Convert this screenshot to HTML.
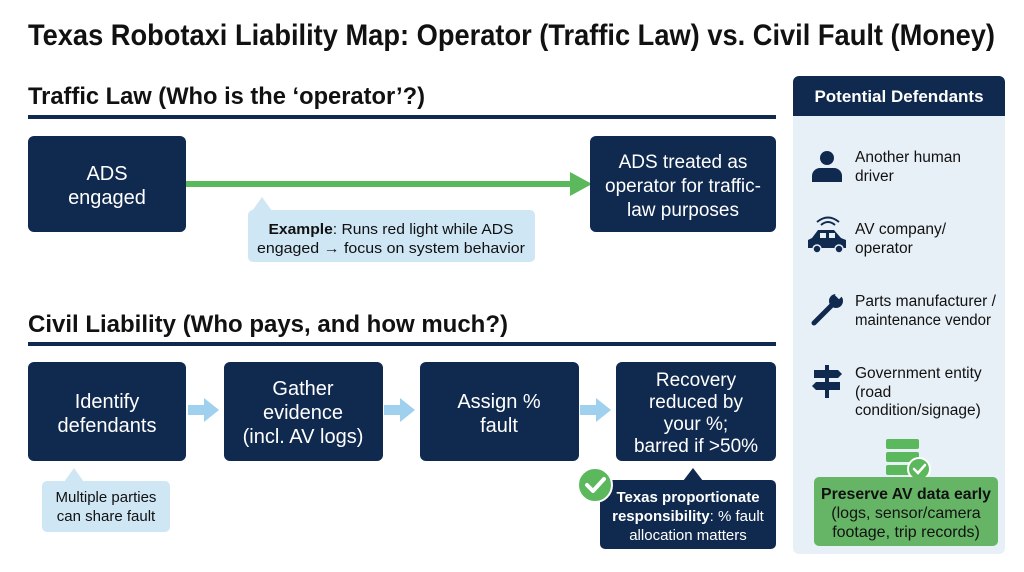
<!DOCTYPE html>
<html><head><meta charset="utf-8"><style>
html,body{margin:0;padding:0;background:#fff;}
svg{display:block;}
text{font-family:"Liberation Sans",sans-serif;}
</style></head><body>
<svg width="1024" height="572" viewBox="0 0 1024 572" xmlns="http://www.w3.org/2000/svg">
<rect width="1024" height="572" fill="#fff"/>
<!-- Title -->
<text x="28" y="45" font-size="30" font-weight="bold" fill="#111" textLength="967" lengthAdjust="spacingAndGlyphs">Texas Robotaxi Liability Map: Operator (Traffic Law) vs. Civil Fault (Money)</text>

<!-- Traffic Law -->
<text x="28" y="104" font-size="24" font-weight="bold" fill="#111" textLength="397" lengthAdjust="spacingAndGlyphs">Traffic Law (Who is the ‘operator’?)</text>
<rect x="28" y="115" width="748" height="4" fill="#10294f"/>

<rect x="28" y="136" width="158" height="96" rx="6" fill="#10294f"/>
<text x="107" y="180" font-size="20" fill="#fff" text-anchor="middle">ADS</text>
<text x="107" y="204" font-size="20" fill="#fff" text-anchor="middle">engaged</text>

<rect x="186" y="181" width="386" height="6" fill="#5cb85c"/>
<polygon points="570,172 592,184 570,196" fill="#5cb85c"/>

<rect x="590" y="136" width="186" height="96" rx="6" fill="#10294f"/>
<text x="683" y="168" font-size="19" fill="#fff" text-anchor="middle">ADS treated as</text>
<text x="683" y="192" font-size="19" fill="#fff" text-anchor="middle">operator for traffic-</text>
<text x="683" y="216" font-size="19" fill="#fff" text-anchor="middle">law purposes</text>

<polygon points="252,211 262,197 272,211" fill="#cfe6f5"/>
<rect x="248" y="210" width="287" height="52" rx="5" fill="#cfe6f5"/>
<text x="391" y="234" font-size="14.5" fill="#111" text-anchor="middle" textLength="245" lengthAdjust="spacingAndGlyphs"><tspan font-weight="bold">Example</tspan>: Runs red light while ADS</text>
<text x="391" y="253" font-size="14.5" fill="#111" text-anchor="middle" textLength="268" lengthAdjust="spacingAndGlyphs">engaged → focus on system behavior</text>

<!-- Civil Liability -->
<text x="28" y="332" font-size="24" font-weight="bold" fill="#111" textLength="480" lengthAdjust="spacingAndGlyphs">Civil Liability (Who pays, and how much?)</text>
<rect x="28" y="342" width="748" height="4" fill="#10294f"/>

<rect x="28" y="362" width="158" height="99" rx="6" fill="#10294f"/>
<text x="107" y="408" font-size="20" fill="#fff" text-anchor="middle">Identify</text>
<text x="107" y="432" font-size="20" fill="#fff" text-anchor="middle">defendants</text>

<rect x="224" y="362" width="159" height="99" rx="6" fill="#10294f"/>
<text x="303" y="395" font-size="20" fill="#fff" text-anchor="middle">Gather</text>
<text x="303" y="419" font-size="20" fill="#fff" text-anchor="middle">evidence</text>
<text x="303" y="443" font-size="20" fill="#fff" text-anchor="middle">(incl. AV logs)</text>

<rect x="420" y="362" width="159" height="99" rx="6" fill="#10294f"/>
<text x="499" y="408" font-size="20" fill="#fff" text-anchor="middle">Assign %</text>
<text x="499" y="432" font-size="20" fill="#fff" text-anchor="middle">fault</text>

<rect x="616" y="362" width="160" height="99" rx="6" fill="#10294f"/>
<text x="696" y="386" font-size="19" fill="#fff" text-anchor="middle">Recovery</text>
<text x="696" y="408" font-size="19" fill="#fff" text-anchor="middle">reduced by</text>
<text x="696" y="430" font-size="19" fill="#fff" text-anchor="middle">your %;</text>
<text x="696" y="452" font-size="19" fill="#fff" text-anchor="middle">barred if &gt;50%</text>

<g fill="#9fd0ee">
<rect x="188" y="405" width="18" height="10"/><polygon points="204,398 219,410 204,422"/>
<rect x="384" y="405" width="18" height="10"/><polygon points="400,398 415,410 400,422"/>
<rect x="580" y="405" width="18" height="10"/><polygon points="596,398 611,410 596,422"/>
</g>

<polygon points="64,482 74,468 84,482" fill="#cfe6f5"/>
<rect x="42" y="481" width="128" height="51" rx="5" fill="#cfe6f5"/>
<text x="106" y="502" font-size="15" fill="#111" text-anchor="middle">Multiple parties</text>
<text x="106" y="521" font-size="15" fill="#111" text-anchor="middle">can share fault</text>

<polygon points="683,481 693,468 703,481" fill="#10294f"/>
<rect x="600" y="480" width="176" height="69" rx="5" fill="#10294f"/>
<text x="688" y="502" font-size="15" fill="#fff" text-anchor="middle" font-weight="bold">Texas proportionate</text>
<text x="688" y="521" font-size="15" fill="#fff" text-anchor="middle"><tspan font-weight="bold">responsibility</tspan>: % fault</text>
<text x="688" y="540" font-size="15" fill="#fff" text-anchor="middle">allocation matters</text>
<circle cx="595" cy="485" r="17" fill="#5cb85c" stroke="#fff" stroke-width="2"/>
<polyline points="587,485 593,491 604,479" fill="none" stroke="#fff" stroke-width="4" stroke-linecap="round" stroke-linejoin="round"/>

<!-- Right panel -->
<rect x="793" y="76" width="212" height="478" rx="6" fill="#e8f0f7"/>
<path d="M793,116 V82 a6,6 0 0 1 6,-6 H999 a6,6 0 0 1 6,6 V116 Z" fill="#10294f"/>
<text x="899" y="102" font-size="17" font-weight="bold" fill="#fff" text-anchor="middle">Potential Defendants</text>

<g fill="#10294f">
<circle cx="827" cy="158" r="7"/>
<path d="M812,182 v-6 a8,8 0 0 1 8,-8 h14 a8,8 0 0 1 8,8 v6 z"/>
<path d="M808,248 v-8 l4,-2 l6,-8 h16 l7,8 l5,2 v8 z"/>
<circle cx="817" cy="249" r="4" fill="#10294f" stroke="#e8f0f7" stroke-width="1.5"/>
<circle cx="839" cy="249" r="4" fill="#10294f" stroke="#e8f0f7" stroke-width="1.5"/>
<path d="M821,225 q7,-6 14,0" fill="none" stroke="#10294f" stroke-width="2"/>
<path d="M817,222 q11,-9 22,0" fill="none" stroke="#10294f" stroke-width="2"/>
<rect x="820" y="233" width="6" height="5" fill="#e8f0f7"/><rect x="829" y="233" width="6" height="5" fill="#e8f0f7"/>
<path d="M814,323 l18,-18" stroke="#10294f" stroke-width="5" stroke-linecap="round"/>
<circle cx="836" cy="301" r="7"/>
<rect x="836" y="292" width="6" height="6" fill="#e8f0f7" transform="rotate(45 839 295)"/>
<rect x="825" y="365" width="4" height="33"/>
<polygon points="814,370 838,370 842,374 838,378 814,378"/>
<polygon points="840,382 816,382 812,386 816,390 840,390"/>
</g>
<g font-size="15.5" fill="#111">
<text x="855" y="162">Another human</text><text x="855" y="181">driver</text>
<text x="855" y="234">AV company/</text><text x="855" y="253">operator</text>
<text x="855" y="306" textLength="141" lengthAdjust="spacingAndGlyphs">Parts manufacturer /</text><text x="855" y="325" textLength="136" lengthAdjust="spacingAndGlyphs">maintenance vendor</text>
<text x="855" y="378">Government entity</text><text x="855" y="397">(road</text><text x="855" y="415">condition/signage)</text>
</g>

<g fill="#5cb85c">
<rect x="886" y="439" width="33" height="10" rx="2"/>
<rect x="886" y="452" width="33" height="10" rx="2"/>
<rect x="886" y="465" width="33" height="10" rx="2"/>
</g>
<circle cx="919" cy="469" r="11" fill="#5cb85c" stroke="#fff" stroke-width="2"/>
<polyline points="914,469 918,473 925,465" fill="none" stroke="#fff" stroke-width="2.5" stroke-linecap="round"/>

<rect x="814" y="477" width="184" height="69" rx="5" fill="#66b566"/>
<text x="906" y="499" font-size="16" font-weight="bold" fill="#111" text-anchor="middle" textLength="170" lengthAdjust="spacingAndGlyphs">Preserve AV data early</text>
<text x="906" y="518" font-size="16" fill="#111" text-anchor="middle">(logs, sensor/camera</text>
<text x="906" y="537" font-size="16" fill="#111" text-anchor="middle">footage, trip records)</text>
</svg>
</body></html>
